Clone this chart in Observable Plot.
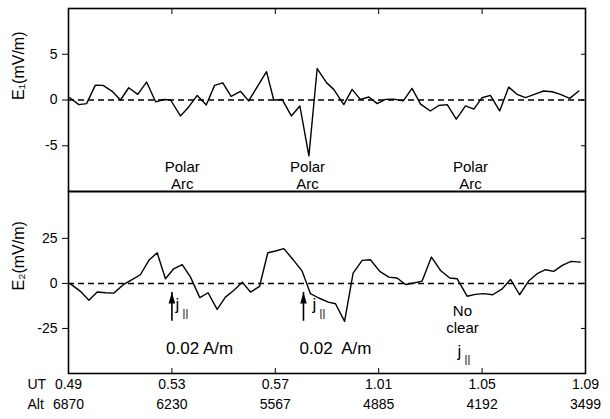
<!DOCTYPE html>
<html><head><meta charset="utf-8">
<script src="https://cdn.jsdelivr.net/npm/d3@7"></script>
<script src="https://cdn.jsdelivr.net/npm/@observablehq/plot@0.6"></script>
<style>
body{margin:0;background:#fff}
#chart{position:relative;width:610px;height:419px;font-family:"Liberation Sans",Arial,sans-serif}
#chart svg{position:absolute;left:0;overflow:visible}
</style>
</head><body><div id="chart"></div>
<script>
// UT in minutes after 0:00 (0.49 = 0h49m)
const e1Time = [49.05,49.40,49.70,50.04,50.34,50.69,51.01,51.33,51.68,52.02,52.37,52.69,52.95,53.33,53.65,53.98,54.33,54.65,54.97,55.29,55.65,55.97,56.66,56.94,57.27,57.62,57.95,58.30,58.62,58.98,59.26,59.65,59.97,60.29,60.62,60.94,61.26,61.58,61.95,62.29,62.62,63.00,63.32,63.65,64.00,64.36,64.68,65.00,65.32,65.68,66.03,66.35,66.68,67.02,67.38,67.71,68.03,68.39,68.74];
const e1Value = [0.25,-0.5,-0.4,1.63,1.6,0.95,0,1.34,0.62,1.96,-0.2,0.05,0,-1.74,-0.76,0.5,-0.55,1.6,1.88,0.4,0.95,-0.1,3.1,0,0.05,-1.74,-0.65,-6.1,3.44,1.9,1.16,-0.5,1.16,0.07,0.33,-0.4,0.07,0.1,-0.1,1.27,-0.45,-1.2,-0.6,-0.5,-2.1,-0.65,-1.0,0.25,0.51,-1.2,1.41,0.62,0.25,0.62,0.98,0.9,0.62,0.18,0.98];
const e2Time = [49.05,49.46,49.79,50.11,50.43,50.75,51.12,51.44,51.78,52.11,52.43,52.75,53.07,53.40,53.72,54.08,54.40,54.75,55.07,55.39,55.72,56.04,56.39,56.71,57.01,57.33,57.68,58.04,58.36,58.68,59.05,59.33,59.68,60.01,60.36,60.68,61.04,61.39,61.71,62.04,62.36,62.68,63.04,63.39,63.75,64.03,64.42,64.74,65.06,65.41,65.78,66.10,66.45,66.80,67.13,67.45,67.77,68.10,68.44,68.80];
const e2Value = [0,-4.4,-9.4,-4.8,-5.2,-5.4,-0.7,2.0,4.8,12.8,17.0,2.6,8.1,10.4,3.5,-7.9,-5.2,-14.4,-7.6,-3.9,0.7,-4.8,-1.7,17.0,18.0,19.3,13.3,6.8,-5.7,-8.1,-10.4,-11.3,-21.1,5.7,12.8,13.1,6.7,3.5,3.0,-0.6,0.2,1.3,14.6,7.2,3.0,2.6,-7.1,-6.1,-5.7,-6.3,-3.0,2.2,-6.3,1.3,5.4,7.6,6.7,10.0,12.2,11.8];

const utTicks = [49,53,57,61,65,69];
const utLabels = ["0.49","0.53","0.57","1.01","1.05","1.09"];
const altLabels = ["6870","6230","5567","4885","4192","3499"];
const e1Ticks = [-5,0,5];
const e2Ticks = [-25,0,25];
const e1Domain = [-10,10];
const e2Domain = [-50,51];
const xDomain = [49,69];

// annotations
const arcTimes = [53.4, 58.25, 64.55];
const polarLevel = -7.3;
const arcLevel = -9.2;
const arrowTimes = [53.0, 58.09];
const arrowTip = -5;
const arrowBase = -21;
const jTimes = [53.14, 58.44, 64.05];
const jLevels = [-12, -12, -38];
const currentTimes = [54.07, 59.33];
const currentTexts = ["0.02 A/m", "0.02\u00a0 A/m"];
const currentLevel = -36;
const noClearTime = [64.24];
const noLevel = -15.5;
const clearLevel = -25;

const e1 = e1Time.map((t,i)=>({t, v:e1Value[i]}));
const e2 = e2Time.map((t,i)=>({t, v:e2Value[i]}));

const font = '"Liberation Sans",Arial,sans-serif';
const baseStyle = {fontFamily:font, fontSize:"14px", color:"#000", background:"transparent", overflow:"visible"};
const arrowHead = {draw(ctx){ ctx.moveTo(0,0); ctx.lineTo(3.3,11); ctx.lineTo(-3.3,11); ctx.closePath(); }};

const topPlot = Plot.plot({
  width:610, height:191, marginLeft:68, marginRight:25, marginTop:8, marginBottom:0,
  style: baseStyle,
  x:{domain:xDomain}, y:{domain:e1Domain},
  marks:[
    Plot.ruleY([0], {strokeDasharray:"6,4", strokeWidth:1.5}),
    Plot.line(e1, {x:"t", y:"v", strokeWidth:1.4}),
    Plot.frame({stroke:"#000", strokeWidth:1.6}),
    Plot.axisY({ticks:e1Ticks, anchor:"left", tickSize:6, tickPadding:5, tickFormat:d=>String(d), label:null, fontSize:14}),
    Plot.axisY({ticks:e1Ticks, anchor:"right", tickSize:5, insetRight:5, tickFormat:()=>"", label:null}),
    Plot.axisX({ticks:utTicks, anchor:"top", tickSize:5, insetTop:5, tickFormat:()=>"", label:null}),
    Plot.text(arcTimes, {x:d=>d, y:()=>polarLevel, text:()=>"Polar", fontSize:15}),
    Plot.text(arcTimes, {x:d=>d, y:()=>arcLevel, text:()=>"Arc", fontSize:15}),
    Plot.text(["E\u2081(mV/m)"], {text:d=>d, frameAnchor:"left", rotate:-90, dx:-50, fontSize:16})
  ]
});

const botPlot = Plot.plot({
  width:610, height:228, marginLeft:68, marginRight:25, marginTop:0, marginBottom:46,
  style: baseStyle,
  x:{domain:xDomain}, y:{domain:e2Domain},
  marks:[
    Plot.ruleY([0], {strokeDasharray:"6,4", strokeWidth:1.5}),
    Plot.line(e2, {x:"t", y:"v", strokeWidth:1.4}),
    Plot.frame({stroke:"#000", strokeWidth:1.6}),
    Plot.axisY({ticks:e2Ticks, anchor:"left", tickSize:6, tickPadding:5, tickFormat:d=>String(d), label:null, fontSize:14}),
    Plot.axisY({ticks:e2Ticks, anchor:"right", tickSize:5, insetRight:5, tickFormat:()=>"", label:null}),
    Plot.axisX({ticks:utTicks, anchor:"bottom", tickSize:5, insetBottom:5, tickFormat:()=>"", label:null}),
    Plot.text(utTicks, {x:d=>d, text:(d,i)=>utLabels[i], frameAnchor:"bottom", dy:15, fontSize:14}),
    Plot.text(utTicks, {x:d=>d, text:(d,i)=>altLabels[i], frameAnchor:"bottom", dy:35, fontSize:14}),
    Plot.text(["UT"], {text:d=>d, frameAnchor:"bottom-left", dx:-41, dy:15, textAnchor:"start", fontSize:14}),
    Plot.text(["Alt"], {text:d=>d, frameAnchor:"bottom-left", dx:-41, dy:35, textAnchor:"start", fontSize:14}),
    Plot.ruleX(arrowTimes, {x:d=>d, y1:()=>arrowTip, y2:()=>arrowBase, strokeWidth:1.6}),
    Plot.dot(arrowTimes, {x:d=>d, y:()=>arrowTip, symbol:arrowHead, fill:"#000", stroke:null, r:4}),
    Plot.text(jTimes, {x:d=>d, y:(d,i)=>jLevels[i], text:()=>"j", textAnchor:"start", fontSize:17, fill:"#000"}),
    Plot.text(jTimes, {x:d=>d, y:(d,i)=>jLevels[i], text:()=>"||", textAnchor:"start", dx:7, dy:8, fontSize:11, fill:"#000"}),
    Plot.text(currentTimes, {x:d=>d, y:()=>currentLevel, text:(d,i)=>currentTexts[i], fontSize:17}),
    Plot.text(noClearTime, {x:d=>d, y:()=>noLevel, text:()=>"No", fontSize:15}),
    Plot.text(noClearTime, {x:d=>d, y:()=>clearLevel, text:()=>"clear", fontSize:15}),
    Plot.text(["E\u2082(mV/m)"], {text:d=>d, frameAnchor:"left", rotate:-90, dx:-50, dy:8, fontSize:16})
  ]
});

const chart = document.getElementById("chart");
topPlot.style.top = "0px";
botPlot.style.top = "191px";
chart.appendChild(topPlot);
chart.appendChild(botPlot);
</script>
</body></html>
